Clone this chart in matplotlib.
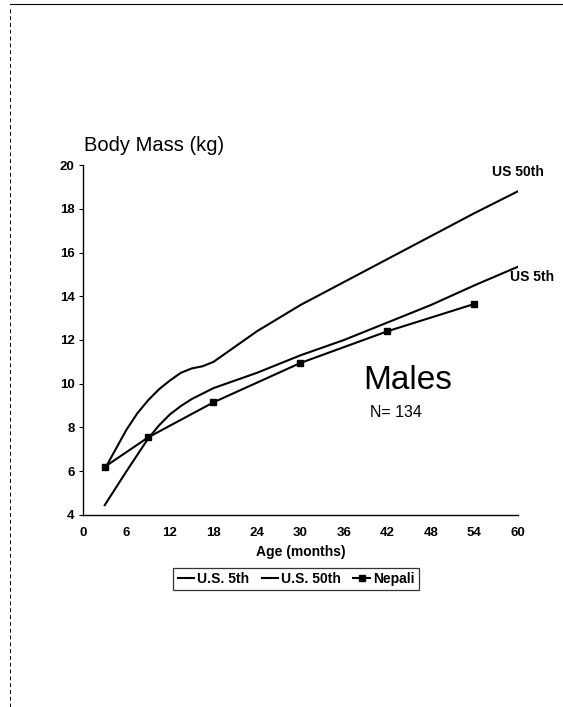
import matplotlib.pyplot as plt
from matplotlib.lines import Line2D

plt.rcParams['font.family'] = ['Liberation Sans', 'DejaVu Sans']

# Reference growth curves (months, kg)
us50_age = [3, 4.5, 6, 7.5, 9, 10.5, 12, 13.5, 15, 16.5, 18, 21, 24, 30, 36, 42, 48, 54, 60]
us50_kg = [6.1, 7.0, 7.9, 8.65, 9.25, 9.75, 10.15, 10.5, 10.7, 10.8, 11.0, 11.7, 12.4,
           13.6, 14.65, 15.7, 16.75, 17.8, 18.8]

us5_age = [3, 6, 9, 10.5, 12, 13.5, 15, 18, 21, 24, 30, 36, 42, 48, 54, 60]
us5_kg = [4.45, 6.0, 7.5, 8.1, 8.6, 8.98, 9.3, 9.8, 10.15, 10.5, 11.3, 12.0, 12.8, 13.6, 14.5, 15.35]

# Nepali sample means
nepal_age = [3, 9, 18, 30, 42, 54]
nepal_kg = [6.2, 7.55, 9.15, 10.95, 12.4, 13.65]

x_ticks = list(range(0, 61, 6))
y_ticks = list(range(4, 21, 2))

fig = plt.figure(figsize=(5.63, 7.07), dpi=100)
ax = fig.add_axes([0.1474, 0.2716, 0.7726, 0.495])

ax.plot(us5_age, us5_kg, color='black', lw=1.5, label='U.S. 5th')
ax.plot(us50_age, us50_kg, color='black', lw=1.5, label='U.S. 50th')
ax.plot(nepal_age, nepal_kg, color='black', lw=1.5, marker='s', ms=5, label='Nepali')

ax.set_xlim(0, 60)
ax.set_ylim(4, 20)
ax.set_xticks(x_ticks)
ax.set_yticks(y_ticks)
ax.tick_params(axis='y', direction='out', length=3, width=0.8, labelsize=9.5, pad=3)
ax.tick_params(axis='x', length=0, labelsize=9.5, pad=9)
for lab in ax.get_xticklabels() + ax.get_yticklabels():
    lab.set_fontweight('bold')

for side in ['top', 'right']:
    ax.spines[side].set_visible(False)
for side in ['left', 'bottom']:
    ax.spines[side].set_linewidth(1.0)

ax.set_xlabel('Age (months)', fontsize=10, fontweight='bold', labelpad=4)
ax.text(0.2, 20.45, 'Body Mass (kg)', fontsize=14.5, ha='left', va='bottom')

# curve labels and annotation
ax.text(60, 19.35, 'US 50th', fontsize=10, fontweight='bold', ha='center', va='bottom')
ax.text(61.9, 14.9, 'US 5th', fontsize=10, fontweight='bold', ha='center', va='center')
ax.text(44.8, 10.15, 'Males', fontsize=24, ha='center', va='center')
ax.text(43.2, 8.7, 'N= 134', fontsize=11.5, ha='center', va='center')

leg = ax.legend(loc='upper center', bbox_to_anchor=(296 / 563, 1 - 568 / 707),
                bbox_transform=fig.transFigure, ncol=3,
                frameon=True, fancybox=False, handlelength=1.2,
                handletextpad=0.2, columnspacing=0.9, borderpad=0.3,
                borderaxespad=0, prop={'weight': 'bold', 'size': 10})
leg.get_frame().set_edgecolor('black')
leg.get_frame().set_linewidth(0.9)

# page edge lines
fig.add_artist(Line2D([10 / 563, 10 / 563], [0, 0.99], color='black', lw=0.7,
                      ls=(0, (4, 3)), transform=fig.transFigure))
fig.add_artist(Line2D([10 / 563, 1], [0.995, 0.995], color='black', lw=0.8,
                      transform=fig.transFigure))

fig.savefig('out.png', dpi=100)
